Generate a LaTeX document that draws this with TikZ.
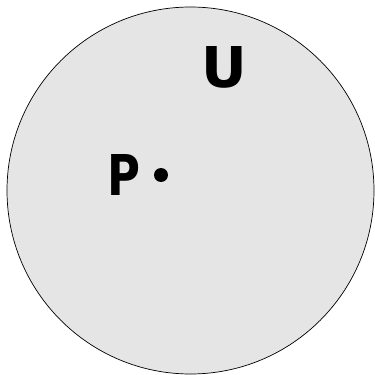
\documentclass[tikz,border=0pt]{standalone}
\usepackage{fontspec}
\setmainfont{DejaVu Sans}
\tikzset{
  setlabel/.style={font=\bfseries\fontsize{32}{36}\selectfont, inner sep=0pt},
}
\begin{document}
\begin{tikzpicture}
  \useasboundingbox (0,0) rectangle (7.5,7.5);
  \draw[fill=gray!20, line width=0.4pt] (3.81,3.69) circle (3.67);
  \node[setlabel] (U) at (4.48,6.16) {U};
  \coordinate (pt) at (3.22,4.0);
  \fill (pt) circle (0.14);
  \node[setlabel, xscale=0.8] (P) at (2.48,4.0) {P};
\end{tikzpicture}
\end{document}
